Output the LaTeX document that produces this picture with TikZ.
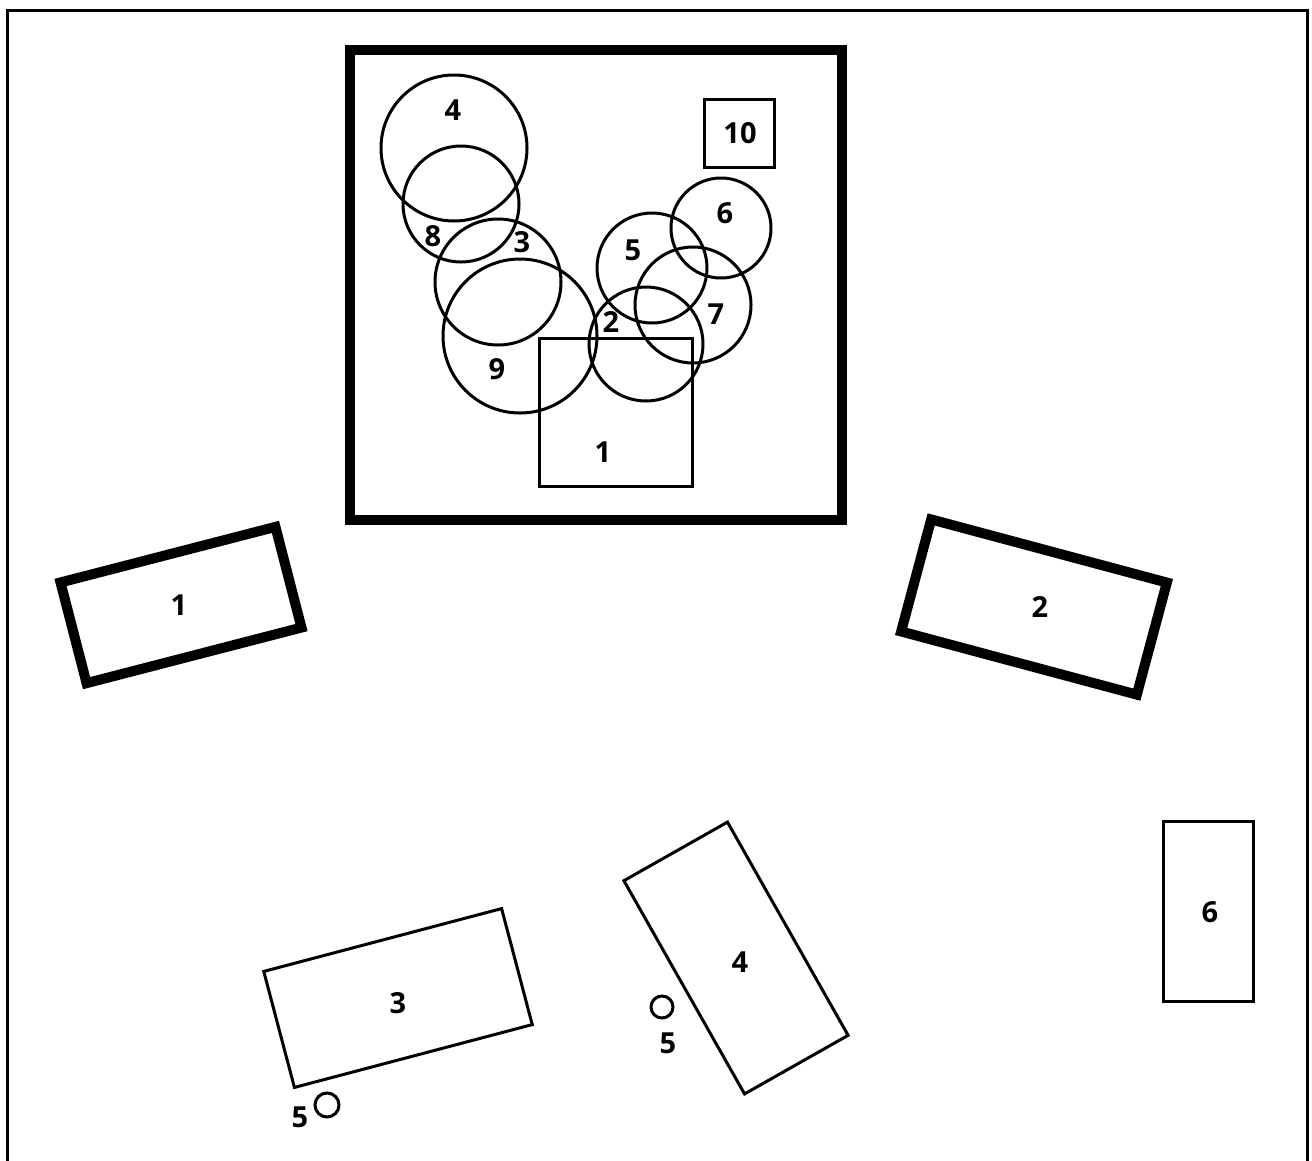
\documentclass[tikz,border=0pt]{standalone}
\usepackage{fontspec}
\setmainfont{Open Sans}
\begin{document}
\begin{tikzpicture}[x=1pt,y=-1pt,
  thin line/.style={line width=3pt},
  box/.style={draw,thin line,rectangle,inner sep=0pt},
  thickbox/.style={draw,line width=10pt,rectangle,inner sep=0pt},
  ring/.style={draw,thin line,circle,inner sep=0pt},
  lbl/.style={inner sep=0pt,font=\bfseries\fontsize{29}{29}\selectfont}]
\useasboundingbox (0,0) rectangle (1312,1160);
% outer frame
\coordinate (fbl) at (7,1170);
\coordinate (ftl) at (7,10);
\coordinate (ftr) at (1307,10);
\coordinate (fbr) at (1307,1170);
\draw[line width=3pt] (fbl) -- (ftl) -- (ftr) -- (fbr);
% big top box
\node[thickbox,minimum width=492pt,minimum height=470pt] (top) at (596,285) {};
% inner box 1 and 10
\node[box,minimum width=153pt,minimum height=148pt] (in1) at (615.5,412) {};
\node[lbl] (in1l) at (603,452) {1};
\node[box,minimum width=70pt,minimum height=68pt] (in10) at (739,133) {};
\node[lbl] (in10l) at (740,133) {10};
% circles
\node[ring,minimum size=146pt] (c4) at (454,148) {};
\node[ring,minimum size=116pt] (c8) at (461,204) {};
\node[ring,minimum size=126pt] (c3) at (498,282) {};
\node[ring,minimum size=154pt] (c9) at (520,336) {};
\node[ring,minimum size=110pt] (c5) at (652,268) {};
\node[ring,minimum size=100pt] (c6) at (721,228) {};
\node[ring,minimum size=116pt] (c7) at (693,305) {};
\node[ring,minimum size=114pt] (c2) at (646,344) {};
\node[lbl] (c4l) at (453,110) {4};
\node[lbl] (c8l) at (433,236) {8};
\node[lbl] (c3l) at (522,242) {3};
\node[lbl] (c9l) at (497,369) {9};
\node[lbl] (c5l) at (633,250) {5};
\node[lbl] (c6l) at (725,213) {6};
\node[lbl] (c7l) at (716,314) {7};
\node[lbl] (c2l) at (611,322) {2};
% tilted thick boxes
\node[thickbox,minimum width=222pt,minimum height=104pt,rotate=14.5] (b1) at (181,605) {};
\node[lbl] (b1l) at (179,605) {1};
\node[thickbox,minimum width=244pt,minimum height=116pt,rotate=-15] (b2) at (1034,607) {};
\node[lbl] (b2l) at (1040,607) {2};
% thin tilted boxes
\node[box,minimum width=246pt,minimum height=120pt,rotate=14.8] (b3) at (398,998) {};
\node[lbl] (b3l) at (398,1003) {3};
\node[ring,minimum size=24pt] (s3) at (327,1105) {};
\node[lbl] (s3l) at (300,1117) {5};
\node[box,minimum width=119pt,minimum height=245pt,rotate=29.5] (b4) at (736,958) {};
\node[lbl] (b4l) at (740,962) {4};
\node[ring,minimum size=22pt] (s4) at (662,1007) {};
\node[lbl] (s4l) at (668,1043) {5};
\node[box,minimum width=90pt,minimum height=180pt] (b6) at (1208,911) {};
\node[lbl] (b6l) at (1210,912) {6};
\end{tikzpicture}
\end{document}
